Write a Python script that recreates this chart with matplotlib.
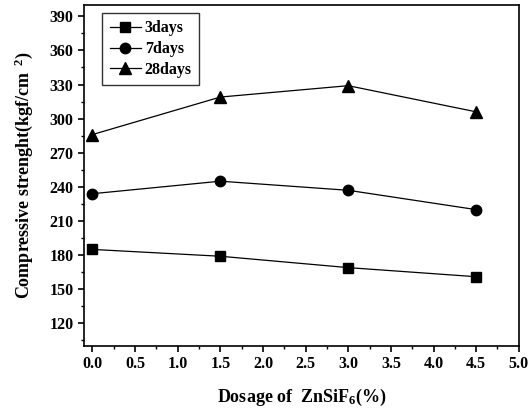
import matplotlib.pyplot as plt
from matplotlib.ticker import MultipleLocator

plt.rcParams['font.family'] = 'Liberation Serif'
plt.rcParams['font.weight'] = 'bold'
plt.rcParams['mathtext.fontset'] = 'custom'
plt.rcParams['mathtext.rm'] = 'Liberation Serif:bold'
plt.rcParams['mathtext.it'] = 'Liberation Serif:bold'

dosage = [0.0, 1.5, 3.0, 4.5]
days3 = [185, 179, 169, 161]
days7 = [234, 245, 237, 220]
days28 = [286, 319, 329, 306]

fig = plt.figure(figsize=(5.31, 4.12), dpi=100)
ax = fig.add_axes([0.158, 0.160, 0.819, 0.828])

ax.plot(dosage, days3, color='black', lw=0.9, marker='s', ms=7, label='3days')
ax.plot(dosage, days7, color='black', lw=0.9, marker='o', ms=7.5, label='7days')
ax.plot(dosage, days28, color='black', lw=0.9, marker='^', ms=8.5, label='28days')

ax.set_xlim(-0.1, 5.0)
ax.set_ylim(100, 400)
ax.xaxis.set_major_locator(MultipleLocator(0.5))
ax.xaxis.set_minor_locator(MultipleLocator(0.25))
ax.yaxis.set_major_locator(MultipleLocator(30))
ax.yaxis.set_minor_locator(MultipleLocator(15))
ax.set_yticks(range(120, 391, 30))
ax.tick_params(which='major', length=4, width=1.2, labelsize=11.5)
ax.tick_params(which='minor', length=2.5, width=1)
for s in ax.spines.values():
    s.set_linewidth(1.2)

ax.set_xlabel('Dosage of  ZnSiF$_6$(%)', fontsize=13, fontweight='bold', labelpad=10)
ax.set_ylabel('Compressive strenght(kgf/cm$^{\\ \\ 2}$)', fontsize=13, fontweight='bold', labelpad=10)

leg = ax.legend(loc='upper left', bbox_to_anchor=(0.035, 0.985), fontsize=11.5,
                frameon=True, fancybox=False, edgecolor='black', handlelength=2.0,
                borderpad=0.45, labelspacing=0.3, handletextpad=0.2, borderaxespad=0.2)
leg.get_frame().set_linewidth(1.0)

fig.savefig('out.png', dpi=100)
